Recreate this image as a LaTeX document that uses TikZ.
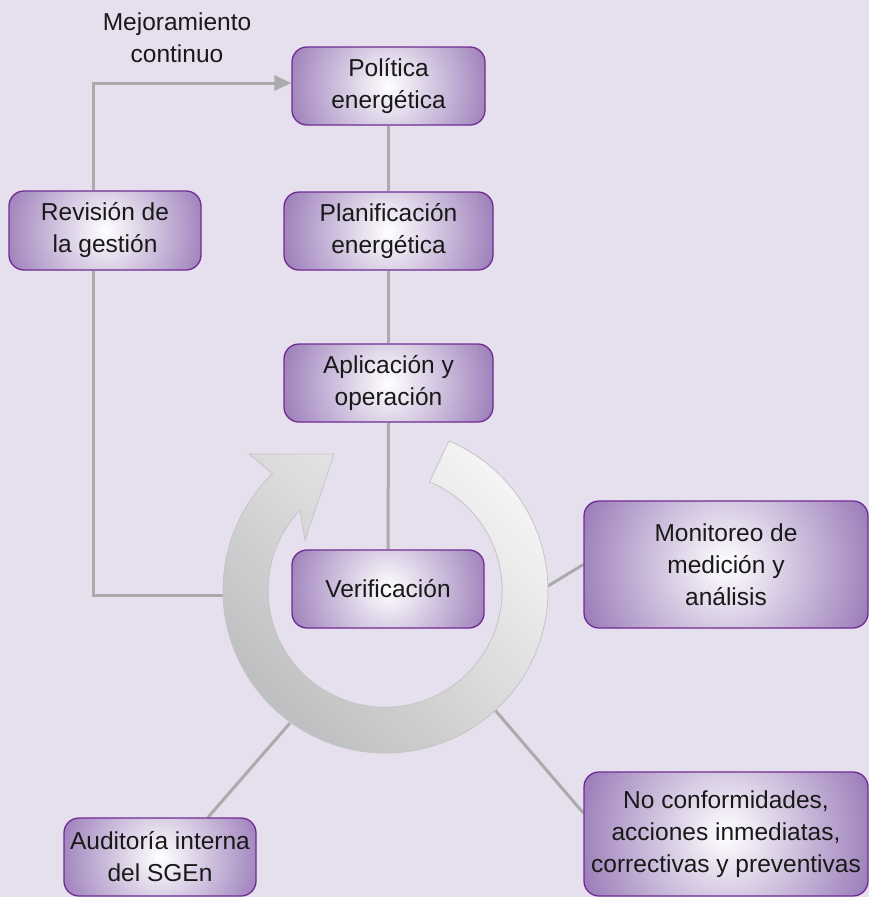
\documentclass[tikz,border=0pt]{standalone}
\usepackage{fontspec}
\setmainfont{Liberation Sans}
\usetikzlibrary{arrows.meta,calc}
\pgfdeclarelayer{background}
\pgfsetlayers{background,main}
\definecolor{bgcol}{HTML}{E6DFEE}
\definecolor{boxpurple}{HTML}{9271B3}
\definecolor{boxborder}{HTML}{6F2C91}
\definecolor{conncol}{HTML}{ABABAB}
\definecolor{ringdark}{HTML}{BBBCBD}
\definecolor{ringlight}{HTML}{F5F5F5}
\definecolor{ringedge}{HTML}{C4C4C4}
\tikzset{
  gbox/.style={draw=boxborder, line width=1.3pt, rounded corners=15pt, inner sep=0pt,
    align=center, font=\fontsize{24.5}{32}\selectfont, text=black!90,
    path picture={\shade[inner color=white, outer color=boxpurple]
      (path picture bounding box.center) circle (#1);}},
  conn/.style={draw=conncol, line width=3pt},
  plain/.style={align=center, font=\fontsize{24.5}{32}\selectfont, text=black!90, inner sep=0pt},
  ring/.style={draw=ringedge, line width=0.8pt, top color=ringlight, bottom color=ringdark, shading angle=-45},
}
\begin{document}
\begin{tikzpicture}[x=1pt,y=-1pt]
\useasboundingbox (0,0) rectangle (869,897);
\coordinate (C) at (385.5,590.5);
\coordinate (ringL) at (223,595);
\coordinate (ringR) at (548,586);
\coordinate (ringBR) at (495,710);
\coordinate (ringBL) at (290,723);

\node[gbox=115pt, minimum width=193pt, minimum height=78pt] (pol) at (388.5,86) {Política\\energética};
\node[gbox=120pt, minimum width=209pt, minimum height=78pt] (plan) at (388.5,231) {Planificación\\energética};
\node[gbox=120pt, minimum width=209pt, minimum height=78pt] (apl) at (388.5,383) {Aplicación y\\operación};
\node[gbox=115pt, minimum width=192pt, minimum height=78pt] (ver) at (388,589) {Verificación};
\node[gbox=115pt, minimum width=192pt, minimum height=79pt] (rev) at (105,230.5) {Revisión de\\la gestión};
\node[gbox=165pt, minimum width=284pt, minimum height=127pt] (mon) at (726,564.5) {Monitoreo de\\medición y\\análisis};
\node[gbox=165pt, minimum width=284pt, minimum height=124pt] (nc) at (726,834) {No conformidades,\\acciones inmediatas,\\correctivas y preventivas};
\node[gbox=115pt, minimum width=192pt, minimum height=78pt] (aud) at (160,857) {Auditoría interna\\del SGEn};
\node[plain] (mej) at (177,38) {Mejoramiento\\continuo};

\begin{pgfonlayer}{background}
\fill[bgcol] (0,0) rectangle (869,897);
\draw[conn, -{Triangle[length=17pt,width=15pt]}] ([xshift=-12pt]rev.north) |- ([yshift=3pt]pol.west);
\draw[conn] ([xshift=-12pt]rev.south) |- (ringL);
\draw[conn] (pol.south) -- (plan.north);
\draw[conn] (plan.south) -- (apl.north);
\draw[conn] (apl.south) -- (ver.north);
\draw[conn] (ringR) -- (mon.west);
\draw[conn] (ringBR) -- ([yshift=21pt]nc.west);
\draw[conn] (ringBL) -- ([xshift=48pt]aud.north);
\shade[ring] ($(C)+(-67:162.5)$) arc[start angle=-67, end angle=226, radius=162.5]
  -- (249,454) -- (334,454) -- (305,540) -- (300,510)
  arc[start angle=223.3, end angle=-67.7, radius=117] -- cycle;
\end{pgfonlayer}
\end{tikzpicture}
\end{document}
